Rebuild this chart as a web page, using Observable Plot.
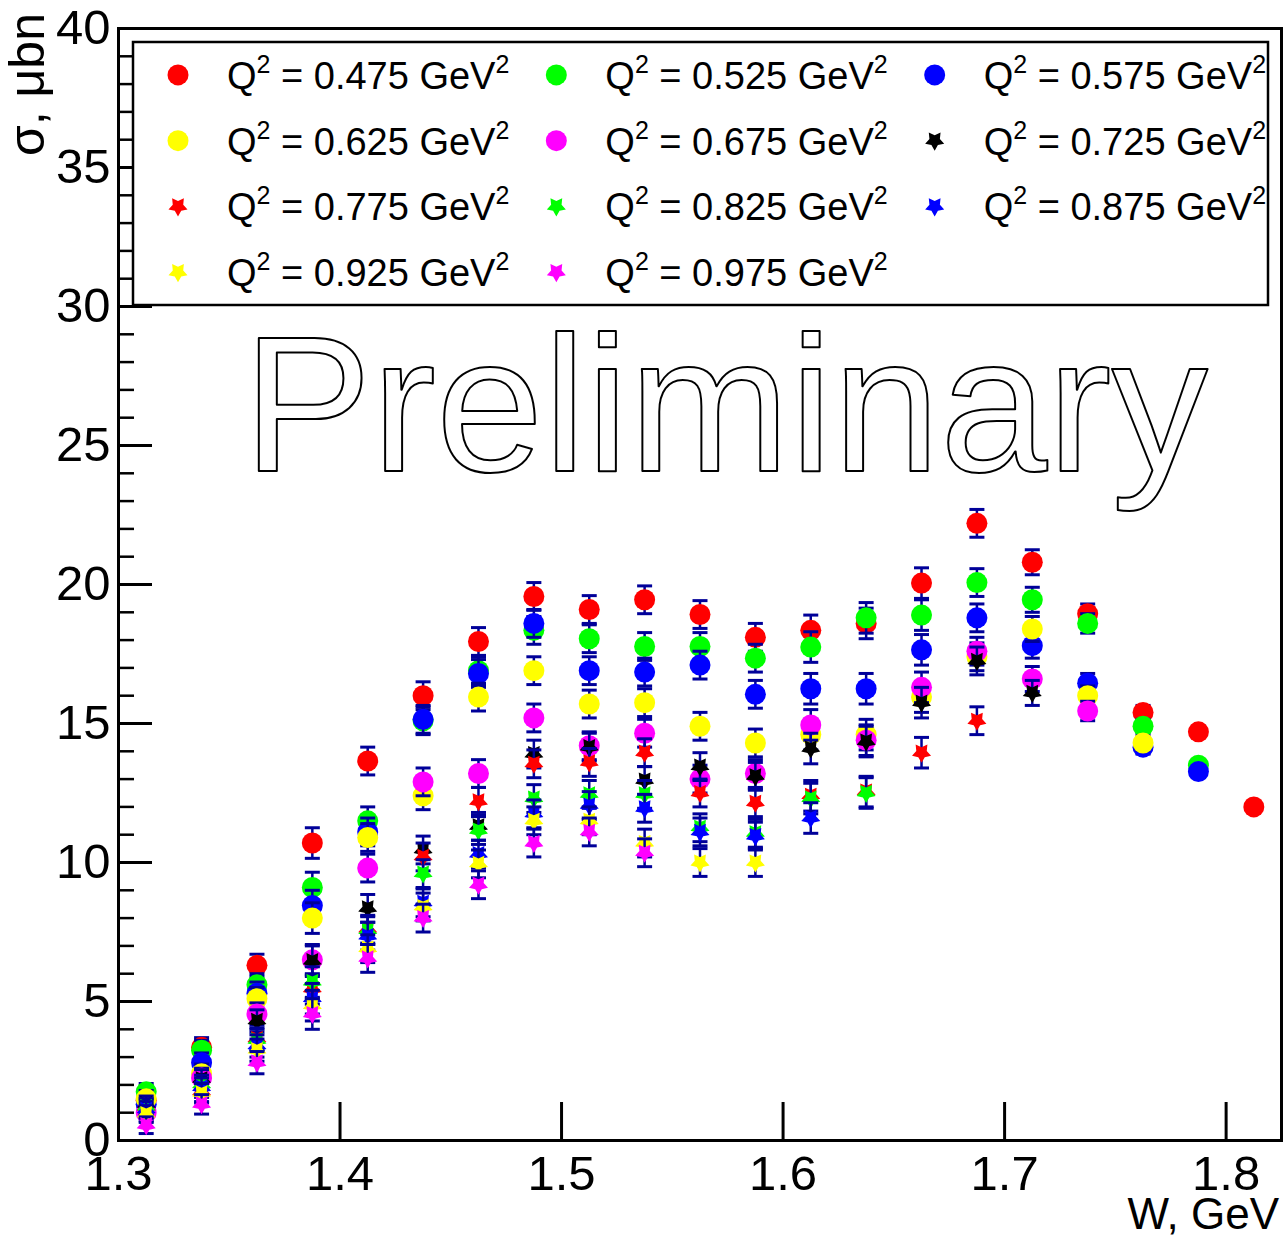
<!DOCTYPE html>
<html><head><meta charset="utf-8">
<script src="https://cdn.jsdelivr.net/npm/d3@7"></script>
<script src="https://cdn.jsdelivr.net/npm/@observablehq/plot@0.6"></script>
<style>
html,body{margin:0;padding:0;background:#fff;}
#chart{width:1284px;height:1239px;}
</style>
</head><body><div id="chart"></div>
<script>
// ---- data ----
const W = [1.3125,1.3375,1.3625,1.3875,1.4125,1.4375,1.4625,1.4875,1.5125,1.5375,1.5625,
           1.5875,1.6125,1.6375,1.6625,1.6875,1.7125,1.7375,1.7625,1.7875,1.8125];
const q2Labels = ["0.475","0.525","0.575","0.625","0.675","0.725","0.775","0.825","0.875","0.925","0.975"];

const sigma_0475 = [1.45,3.35,6.3,10.7,13.65,16.0,17.95,19.57,19.1,19.45,18.92,18.1,18.35,18.6,20.05,22.2,20.8,18.95,15.4,14.7,12.0];
const sigma_0525 = [1.75,3.25,5.6,9.1,11.5,15.1,16.9,18.35,18.05,17.77,17.77,17.35,17.75,18.8,18.9,20.07,19.45,18.6,14.9,13.5,null];
const sigma_0575 = [1.3,2.8,5.3,8.45,11.1,15.15,16.8,18.6,16.9,16.85,17.1,16.05,16.25,16.25,17.65,18.8,17.8,16.45,14.15,13.27,null];
const sigma_0625 = [1.5,2.4,5.1,8.0,10.9,12.4,15.95,16.9,15.7,15.75,14.9,14.3,14.6,14.6,15.95,17.4,18.4,16.0,14.3,null,null];
const sigma_0675 = [1.0,2.25,4.55,6.5,9.8,12.9,13.2,15.2,14.2,14.65,13.0,13.2,14.95,14.4,16.3,17.6,16.6,15.45,null,null,null];
const sigma_0725 = [1.3,2.2,4.3,6.45,8.35,10.45,11.3,13.9,14.15,12.95,13.45,13.1,14.1,14.35,15.75,17.25,16.1,null,null,null,null];
const sigma_0775 = [1.2,1.75,3.65,5.45,7.6,10.2,12.2,13.55,13.6,13.95,12.5,12.15,12.4,12.55,13.95,15.1,null,null,null,null,null];
const sigma_0825 = [1.2,2.0,3.6,5.7,7.55,9.6,11.15,12.3,12.45,12.45,11.25,11.05,12.3,12.5,null,null,null,null,null,null,null];
const sigma_0875 = [1.1,1.9,3.4,5.1,7.35,8.55,10.3,11.75,12.05,11.95,11.1,10.95,11.6,null,null,null,null,null,null,null,null];
const sigma_0925 = [0.95,1.7,3.25,4.85,6.9,8.4,9.95,11.5,11.5,10.7,10.0,10.0,null,null,null,null,null,null,null,null,null];
const sigma_0975 = [0.55,1.3,2.8,4.55,6.55,8.0,9.2,10.7,11.1,10.35,null,null,null,null,null,null,null,null,null,null,null];
const sigmaErr   = [0.3,0.35,0.4,0.55,0.5,0.5,0.5,0.5,0.5,0.5,0.5,0.5,0.55,0.55,0.55,0.5,0.45,0.35,0.25,0.2,0.15];

const xTicks = [1.3,1.4,1.5,1.6,1.7,1.8];
const yTicks = [0,5,10,15,20,25,30,35,40];
const yMinor = d3.range(0,41,1).filter(v => v % 5 !== 0);

// ---- styling ----
const seriesValues = [sigma_0475,sigma_0525,sigma_0575,sigma_0625,sigma_0675,sigma_0725,
                      sigma_0775,sigma_0825,sigma_0875,sigma_0925,sigma_0975];
const colors = ["#ff0000","#00ff00","#0000ff","#ffff00","#ff00ff","#000000",
                "#ff0000","#00ff00","#0000ff","#ffff00","#ff00ff"];
const isCircle = [true,true,true,true,true,false,false,false,false,false,false];
const NAVY = "#000099";
const FONT = "'Liberation Sans', Arial, Helvetica, sans-serif";

const starDown = {
  draw(ctx, size) {
    const R = Math.sqrt(size / Math.PI), ri = R * 0.55;
    for (let k = 0; k < 10; k++) {
      const a = Math.PI / 2 + k * Math.PI / 5;
      const rr = k % 2 === 0 ? R : ri;
      const x = rr * Math.cos(a), y = rr * Math.sin(a);
      if (k === 0) ctx.moveTo(x, y); else ctx.lineTo(x, y);
    }
    ctx.closePath();
  }
};
const capSymbol = {
  draw(ctx, size) {
    const R = Math.sqrt(size / Math.PI);
    ctx.moveTo(-R, 0); ctx.lineTo(R, 0);
  }
};

const rows = [];
seriesValues.forEach((vals, i) => vals.forEach((v, j) => {
  if (v != null) rows.push({s: i, W: W[j], v, e: sigmaErr[j]});
}));

const width = 1284, height = 1239;
const mL = 118, mR = 3, mT = 28, mB = 99;
const fw = width - mL - mR, fh = height - mT - mB;

const marks = [
  Plot.ruleY(yMinor, {y: d => d, insetRight: fw - 16, stroke: "black", strokeWidth: 2.5}),
  Plot.ruleY(yTicks, {y: d => d, insetRight: fw - 34, stroke: "black", strokeWidth: 3}),
  Plot.ruleX(xTicks, {x: d => d, insetTop: fh - 38, stroke: "black", strokeWidth: 3}),
  Plot.axisX({ticks: xTicks, tickSize: 0, tickPadding: 15, tickFormat: d => d.toFixed(1), label: null, fontSize: 49}),
  Plot.axisY({ticks: yTicks, tickSize: 0, tickPadding: 8, tickFormat: d => String(d), label: null, fontSize: 49}),
];

seriesValues.forEach((_, i) => {
  const d = rows.filter(r => r.s === i);
  marks.push(
    Plot.ruleX(d, {x: "W", y1: r => r.v - r.e, y2: r => r.v + r.e, stroke: NAVY, strokeWidth: 2.5}),
    Plot.dot(d, {x: "W", y: r => r.v + r.e, symbol: capSymbol, r: 7.5, stroke: NAVY, strokeWidth: 3, fill: "none"}),
    Plot.dot(d, {x: "W", y: r => r.v - r.e, symbol: capSymbol, r: 7.5, stroke: NAVY, strokeWidth: 3, fill: "none"}),
    Plot.dot(d, {x: "W", y: "v", symbol: isCircle[i] ? "circle" : starDown, r: isCircle[i] ? 10.5 : 10,
                 fill: colors[i], stroke: "none"})
  );
});

marks.push(
  Plot.text(["Preliminary"], {frameAnchor: "top-left", dx: 725 - mL, dy: 470 - mT, text: d => d,
    textAnchor: "middle", lineAnchor: "bottom", fontSize: 193, fill: "none", stroke: "black", strokeWidth: 2}),
  Plot.frame({stroke: "black", strokeWidth: 3})
);

const chart = Plot.plot({
  width, height,
  marginLeft: mL, marginRight: mR, marginTop: mT, marginBottom: mB,
  x: {domain: [1.3, 1.825]},
  y: {domain: [0, 40]},
  style: {fontFamily: FONT, fontSize: "49px", color: "black", background: "white"},
  marks
});
document.getElementById("chart").appendChild(chart);

// ---- titles and legend ----
const svg = d3.select(chart);
const g = svg.append("g").attr("font-family", FONT).attr("fill", "black").attr("text-anchor", "start");

g.append("text")
  .attr("transform", "translate(44,13) rotate(-90)")
  .attr("text-anchor", "end").attr("font-size", 50).text("σ, μbn");

g.append("text")
  .attr("x", 1279).attr("y", 1229)
  .attr("text-anchor", "end").attr("font-size", 44).text("W, GeV");

const lx = 133, ly = 42, lw = 1135, lh = 263;
g.append("rect").attr("x", lx).attr("y", ly).attr("width", lw).attr("height", lh)
  .attr("fill", "white").attr("stroke", "black").attr("stroke-width", 2.5);

const colW = lw / 3, rowH = lh / 4;
q2Labels.forEach((lab, i) => {
  const col = i % 3, row = Math.floor(i / 3);
  const cx = lx + col * colW + 45, cy = ly + rowH * (row + 0.5);
  if (isCircle[i]) {
    g.append("circle").attr("cx", cx).attr("cy", cy).attr("r", 10.5).attr("fill", colors[i]);
  } else {
    g.append("path").attr("transform", `translate(${cx},${cy})`)
      .attr("d", d3.symbol(starDown, Math.PI * 100)()).attr("fill", colors[i]);
  }
  const t = g.append("text").attr("x", lx + col * colW + 94).attr("y", cy + 14)
    .attr("text-anchor", "start").attr("font-size", 38).style("white-space", "pre");
  t.append("tspan").text("Q");
  t.append("tspan").attr("font-size", 25).attr("dy", -16).text("2");
  t.append("tspan").attr("dy", 16).text(" = " + lab + " GeV");
  t.append("tspan").attr("font-size", 25).attr("dy", -16).text("2");
});
</script>
</body></html>
